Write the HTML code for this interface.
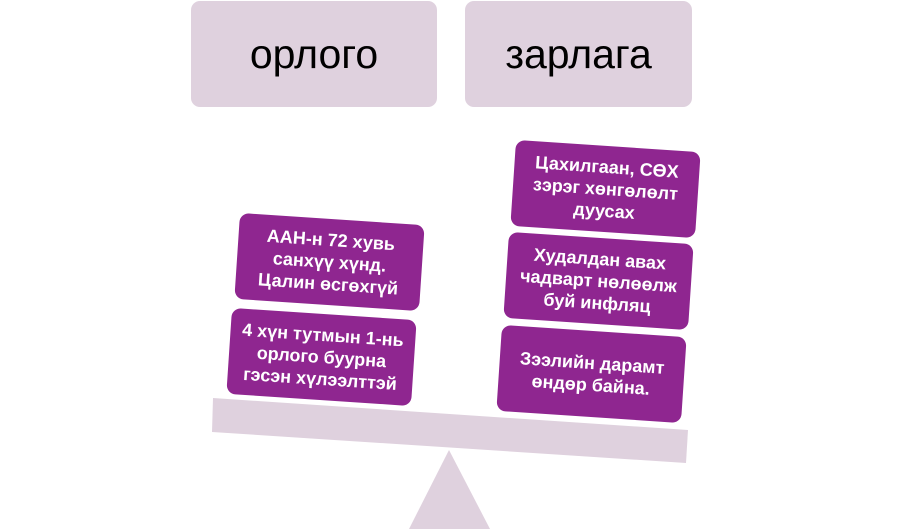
<!DOCTYPE html>
<html><head><meta charset="utf-8"><style>
html,body{margin:0;padding:0;background:#fff;width:902px;height:529px;overflow:hidden;position:relative;font-family:"Liberation Sans","DejaVu Sans",sans-serif}
.top{position:absolute;top:1px;height:106px;background:#dfd1de;border-radius:9px;display:flex;align-items:center;justify-content:center;font-size:41px;color:#000}
.b{position:absolute;width:185px;height:86px;margin-left:-92.5px;margin-top:-43px;background:#8f2690;border-radius:9px;color:#fff;font-weight:bold;font-size:18px;line-height:22px;text-align:center;display:flex;align-items:center;justify-content:center;transform:rotate(3.8deg)}
</style></head><body>
<div class="top" style="left:191px;width:246px">орлого</div>
<div class="top" style="left:465px;width:227px">зарлага</div>
<svg width="902" height="529" style="position:absolute;left:0;top:0">
<polygon points="213,398 688,430 686,463 212,432" fill="#dfd1de"/>
<polygon points="449,450 490,529 409,529" fill="#dfd1de"/>
</svg>
<div class="b" style="left:329px;top:262px">ААН-н 72 хувь<br>санхүү хүнд.<br>Цалин өсгөхгүй</div>
<div class="b" style="left:321px;top:357px">4 хүн тутмын 1-нь<br>орлого буурна<br>гэсэн хүлээлттэй</div>
<div class="b" style="left:605px;top:189px">Цахилгаан, СӨХ<br>зэрэг хөнгөлөлт<br>дуусах</div>
<div class="b" style="left:598px;top:281px">Худалдан авах<br>чадварт нөлөөлж<br>буй инфляц</div>
<div class="b" style="left:591px;top:374px">Зээлийн дарамт<br>өндөр байна.</div>
</body></html>
